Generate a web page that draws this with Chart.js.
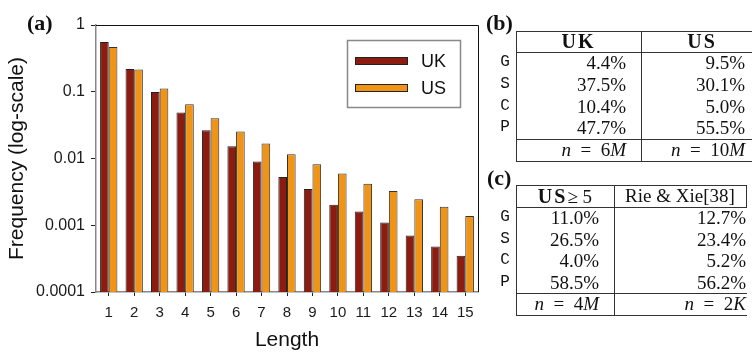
<!DOCTYPE html>
<html>
<head>
<meta charset="utf-8">
<script src="https://cdn.jsdelivr.net/npm/chart.js@4.4.1/dist/chart.umd.min.js"></script>
<style>
  html, body { margin: 0; padding: 0; background: #fff; }
  body { width: 752px; height: 353px; position: relative; overflow: hidden; color: #111; }
  #chartBox { position: absolute; left: 0; top: 0; width: 490px; height: 353px; }
  .panel { position: absolute; font: bold 22px "Liberation Serif", serif; line-height: 22px; }
  .hl { position: absolute; height: 1px; background: #333; }
  .vl { position: absolute; width: 1px; background: #333; }
  .cell { position: absolute; font: 19px "Liberation Serif", serif; white-space: nowrap; }
  .cell b { font-size: 20px; letter-spacing: 2px; }
  .key { position: absolute; font: 16px "Liberation Mono", monospace; text-align: center; width: 14px; }
  i { font-style: italic; }
</style>
</head>
<body>
<div id="chartBox"><canvas id="freqChart" width="490" height="353"></canvas></div>
<div class="panel" style="left:27px; top:12px;">(a)</div>
<div class="panel" style="left:486px; top:12px;">(b)</div>
<div class="panel" style="left:487px; top:167px;">(c)</div>
<div id="tables"></div>
<script>
// bar chart data
const lengths = ["1", "2", "3", "4", "5", "6", "7", "8", "9", "10", "11", "12", "13", "14", "15"];
const ukFreq = [0.556, 0.219, 0.099, 0.049, 0.0266, 0.0153, 0.0090, 0.0053, 0.0035, 0.00202, 0.0016, 0.0011, 0.0007, 0.00048, 0.00035];
const usFreq = [0.468, 0.216, 0.112, 0.065, 0.040, 0.0254, 0.0168, 0.0116, 0.0082, 0.00596, 0.0042, 0.00327, 0.00246, 0.00189, 0.00138];
const yTickValues = [0.0001, 0.001, 0.01, 0.1, 1];
const yTickLabels = ["0.0001", "0.001", "0.01", "0.1", "1"];

// table data
const rowKeys = ["G", "S", "C", "P"];
const ukShare = ["4.4%", "37.5%", "10.4%", "47.7%"];
const usShare = ["9.5%", "30.1%", "5.0%", "55.5%"];
const usMin5Share = ["11.0%", "26.5%", "4.0%", "58.5%"];
const rieXieShare = ["12.7%", "23.4%", "5.2%", "56.2%"];
const tableBHeads = ["<b>UK</b>", "<b>US</b>"];
const tableBCounts = ["<i>n</i>&ensp;=&ensp;6<i>M</i>", "<i>n</i>&ensp;=&ensp;10<i>M</i>"];
const tableCHeads = ["<b>US</b>&#8805; 5", "Rie &amp; Xie[38]"];
const tableCCounts = ["<i>n</i>&ensp;=&ensp;4<i>M</i>", "<i>n</i>&ensp;=&ensp;2<i>K</i>"];

const UK_COLOR = "#8c1b10";
const US_COLOR = "#f09418";

// top + right frame lines
const framePlugin = {
    id: "frame",
    afterDraw(chart) {
        const { ctx, chartArea: a } = chart;
        ctx.save();
        ctx.strokeStyle = "#111";
        ctx.lineWidth = 1;
        ctx.beginPath();
        ctx.moveTo(a.left, a.top + 0.5);
        ctx.lineTo(a.right + 0.5, a.top + 0.5);
        ctx.lineTo(a.right + 0.5, a.bottom);
        ctx.stroke();
        ctx.restore();
    }
};

// boxed legend in the top-right corner of the plot
const legendBox = {
    id: "legendBox",
    afterDraw(chart) {
        const ctx = chart.ctx;
        ctx.save();
        ctx.strokeStyle = "#888";
        ctx.lineWidth = 1.5;
        ctx.strokeRect(347.5, 40.5, 113, 67);
        chart.data.datasets.forEach((ds, i) => {
            const y = 57 + i * 27;
            ctx.fillStyle = ds.backgroundColor;
            ctx.fillRect(355, y, 53, 8);
            ctx.strokeStyle = "#222";
            ctx.lineWidth = 1;
            ctx.strokeRect(355.5, y + 0.5, 52, 7);
            ctx.fillStyle = "#111";
            ctx.font = '18px "Liberation Sans", Arial, sans-serif';
            ctx.textBaseline = "middle";
            ctx.fillText(ds.label, 421, y + 5);
        });
        ctx.restore();
    }
};

new Chart(document.getElementById("freqChart"), {
    type: "bar",
    data: {
        labels: lengths,
        datasets: [
            { label: "UK", data: ukFreq, backgroundColor: UK_COLOR, borderColor: "#222", borderWidth: 1, borderSkipped: "bottom" },
            { label: "US", data: usFreq, backgroundColor: US_COLOR, borderColor: "#333", borderWidth: 1, borderSkipped: "bottom" }
        ]
    },
    options: {
        responsive: false,
        animation: false,
        layout: { padding: { top: 25, right: 12, left: 0, bottom: 0 } },
        datasets: { bar: { categoryPercentage: 0.68, barPercentage: 1.0 } },
        plugins: { legend: { display: false }, tooltip: { enabled: false } },
        scales: {
            x: {
                grid: { display: true, drawOnChartArea: false, offset: false, tickLength: 4, color: "#222" },
                border: { display: true, color: "#888", width: 1.5 },
                ticks: { color: "#1a1a1a", padding: 8, font: { family: "Liberation Sans", size: 15 }, maxRotation: 0 },
                title: { display: true, text: "Length", color: "#111", font: { family: "Liberation Sans", size: 21 }, padding: { top: 0, bottom: 0 } },
                afterFit(scale) {
                    scale.height = 61;
                    scale.paddingLeft = 0;
                    scale.paddingRight = 0;
                }
            },
            y: {
                type: "logarithmic",
                min: 0.0001,
                max: 1,
                grid: { display: true, drawOnChartArea: false, tickLength: 5, color: "#222" },
                border: { display: true, color: "#888", width: 1.5 },
                afterBuildTicks(scale) {
                    scale.ticks = yTickValues.map(v => ({ value: v }));
                },
                ticks: {
                    color: "#1a1a1a",
                    padding: 6,
                    font: { family: "Liberation Sans", size: 16 },
                    callback: (v) => yTickLabels[yTickValues.indexOf(v)] ?? ""
                },
                title: { display: true, text: "Frequency (log-scale)", color: "#111", font: { family: "Liberation Sans", size: 21 }, padding: { top: 5, bottom: 0 } },
                afterFit(scale) {
                    scale.width = 96;
                    scale.paddingTop = 0;
                    scale.paddingBottom = 0;
                }
            }
        }
    },
    plugins: [framePlugin, legendBox]
});

// ---- tables (b) and (c) ----
const host = document.getElementById("tables");

function add(cls, style, html) {
    const d = document.createElement("div");
    d.className = cls;
    d.style.cssText = style;
    if (html !== undefined) d.innerHTML = html;
    host.appendChild(d);
    return d;
}

function drawTable(t) {
    const { x0, x1, x2, yTop, yHead, rowH, yN, yBot } = t;
    // horizontal rules
    [yTop, yHead, yN, yBot].forEach(y => add("hl", `left:${x0}px; top:${y}px; width:${x2 - x0 + 1}px;`));
    // vertical rules
    add("vl", `left:${x0}px; top:${yTop}px; height:${yBot - yTop + 1}px;`);
    add("vl", `left:${x1}px; top:${yTop}px; height:${yBot - yTop + 1}px;`);
    if (t.headRightRule) add("vl", `left:${x2}px; top:${yTop}px; height:${yHead - yTop + 1}px;`);
    // header
    const hh = yHead - yTop;
    add("cell", `left:${x0}px; top:${yTop}px; width:${x1 - x0}px; height:${hh}px; line-height:${hh}px; text-align:center;`, t.heads[0]);
    add("cell", `left:${x1}px; top:${yTop}px; width:${t.x2h - x1}px; height:${hh}px; line-height:${hh}px; text-align:center;`, t.heads[1]);
    // body rows
    rowKeys.forEach((k, i) => {
        const y = yHead + i * rowH;
        add("key", `left:${x0 - 18}px; top:${y}px; height:${rowH}px; line-height:${rowH}px;`, k);
        add("cell", `left:${x0}px; top:${y}px; width:${x1 - x0 - 15}px; height:${rowH}px; line-height:${rowH}px; text-align:right;`, t.cols[0][i]);
        add("cell", `left:${x1}px; top:${y}px; width:${t.rightEdge - x1}px; height:${rowH}px; line-height:${rowH}px; text-align:right;`, t.cols[1][i]);
    });
    // count row
    const nh = yBot - yN;
    add("cell", `left:${x0}px; top:${yN}px; width:${x1 - x0 - 15}px; height:${nh}px; line-height:${nh}px; text-align:right;`, t.counts[0]);
    add("cell", `left:${x1}px; top:${yN}px; width:${t.rightEdge - x1}px; height:${nh}px; line-height:${nh}px; text-align:right;`, t.counts[1]);
}

drawTable({
    x0: 516, x1: 641, x2: 765, x2h: 763, rightEdge: 745,
    yTop: 31, yHead: 52, rowH: 21.8, yN: 139, yBot: 161,
    heads: tableBHeads, cols: [ukShare, usShare], counts: tableBCounts
});
drawTable({
    x0: 516, x1: 614, x2: 746, x2h: 746, rightEdge: 746, headRightRule: true,
    yTop: 185, yHead: 207, rowH: 21.5, yN: 293, yBot: 315,
    heads: tableCHeads, cols: [usMin5Share, rieXieShare], counts: tableCCounts
});
</script>
</body>
</html>
